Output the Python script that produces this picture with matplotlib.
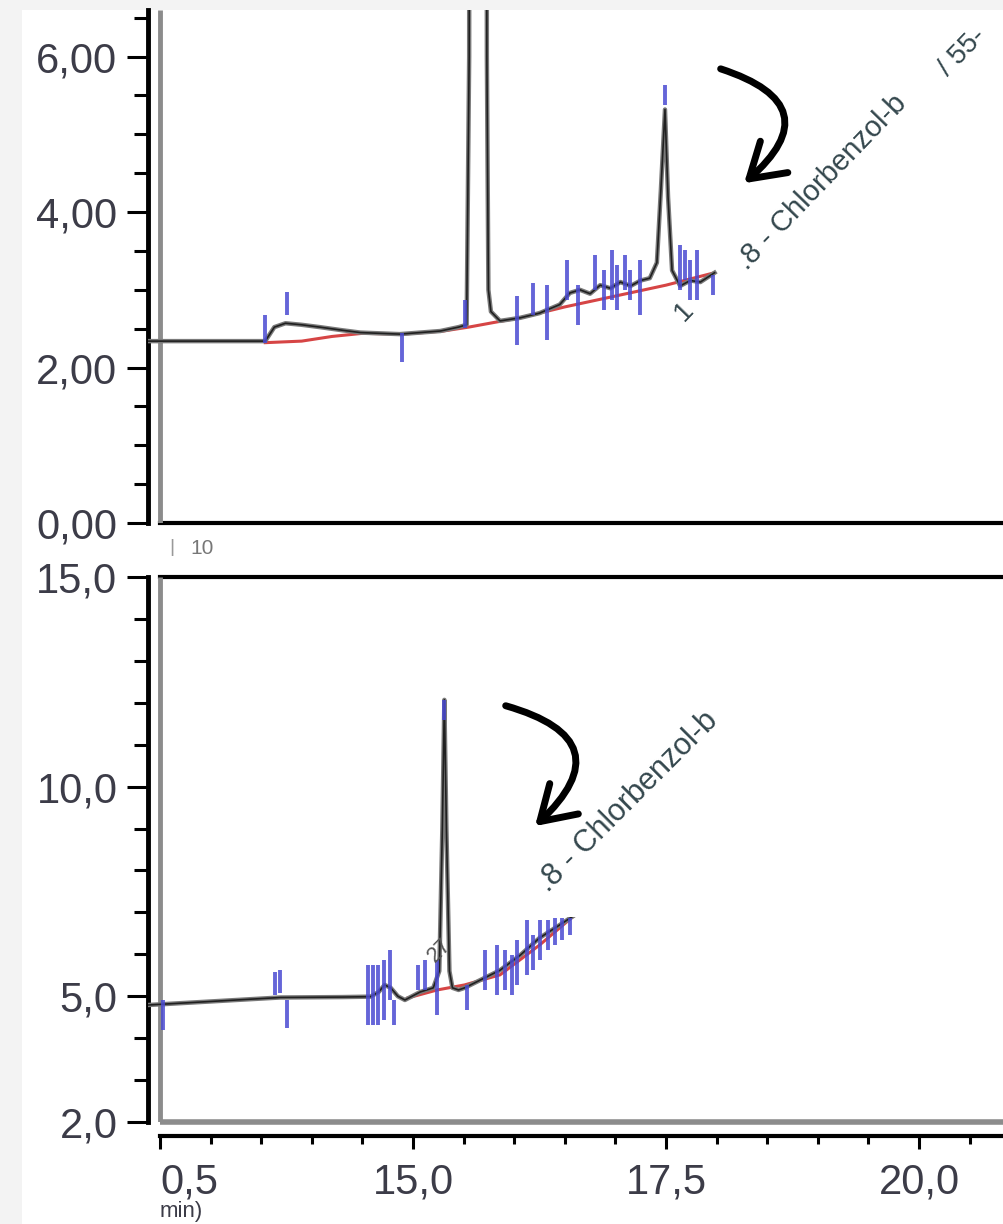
import matplotlib.pyplot as plt
import numpy as np
from matplotlib.patches import Rectangle, FancyArrowPatch
from matplotlib.ticker import MultipleLocator

plt.rcParams['font.family'] = ['Liberation Sans', 'DejaVu Sans']

# --- chromatogramme du haut (temps en min, signal) ---
haut_t = [12.38, 13.54, 13.58, 13.63, 13.74, 13.9, 14.08, 14.3, 14.48, 14.87, 15.27, 15.45, 15.53,
          15.555, 15.57, 15.64, 15.71, 15.73, 15.745, 15.77, 15.86, 16.06, 16.25, 16.45, 16.55, 16.65,
          16.75, 16.85, 16.95, 17.05, 17.15, 17.25, 17.34, 17.41, 17.45, 17.49, 17.52, 17.56, 17.64,
          17.74, 17.84, 17.98]
haut_v = [2.34, 2.34, 2.42, 2.52, 2.57, 2.55, 2.52, 2.48, 2.45, 2.43, 2.47, 2.52, 2.55,
          6.0, 40.0, 80.0, 40.0, 6.0, 3.0, 2.72, 2.60, 2.64, 2.70, 2.81, 2.96, 3.00,
          2.95, 3.06, 3.02, 3.10, 3.05, 3.12, 3.15, 3.35, 4.30, 5.32, 4.20, 3.25, 3.05,
          3.12, 3.10, 3.22]
base_haut_t = [13.54, 13.9, 14.2, 14.5, 14.9, 15.3, 15.55, 15.8, 16.06, 16.5, 17.0, 17.5, 17.98]
base_haut_v = [2.32, 2.34, 2.40, 2.44, 2.43, 2.47, 2.52, 2.58, 2.64, 2.78, 2.92, 3.06, 3.22]
# marqueurs d'intégration (bleus) : temps, bas, haut
marq_haut_t = [13.54, 13.75, 14.89, 15.51, 16.03, 16.19, 16.32, 16.52, 16.63, 16.80, 16.89,
               16.97, 17.02, 17.09, 17.14, 17.24, 17.49, 17.64, 17.69, 17.74, 17.81, 17.96]
marq_haut_bas = [2.32, 2.68, 2.07, 2.51, 2.29, 2.68, 2.36, 2.87, 2.55, 3.00, 2.74,
                 2.87, 2.74, 3.00, 2.87, 2.68, 5.38, 3.00, 3.13, 2.87, 2.87, 2.93]
marq_haut_haut = [2.68, 2.97, 2.45, 2.87, 2.92, 3.09, 3.06, 3.38, 3.06, 3.45, 3.26,
                  3.51, 3.32, 3.45, 3.26, 3.38, 5.64, 3.58, 3.51, 3.38, 3.51, 3.19]

# --- chromatogramme du bas ---
bas_t = [12.38, 13.69, 14.3, 14.58, 14.66, 14.72, 14.78, 14.85, 14.92, 15.07, 15.2, 15.26,
         15.29, 15.31, 15.33, 15.36, 15.39, 15.45, 15.51, 15.66, 15.86, 16.06, 16.25, 16.45, 16.6]
bas_v = [4.79, 4.97, 4.98, 4.99, 5.10, 5.27, 5.20, 5.00, 4.91, 5.10, 5.20, 5.60,
         9.0, 12.07, 9.0, 5.60, 5.20, 5.15, 5.20, 5.38, 5.62, 5.98, 6.39, 6.70, 6.94]
base_bas_t = [14.95, 15.24, 15.51, 15.86, 16.25, 16.6]
base_bas_v = [4.96, 5.15, 5.27, 5.51, 6.22, 6.94]
marq_bas_t = [12.53, 13.64, 13.69, 13.75, 14.56, 14.60, 14.65, 14.71, 14.77, 14.81, 15.05,
              15.12, 15.24, 15.31, 15.53, 15.71, 15.83, 15.91, 15.98, 16.03, 16.13, 16.19,
              16.25, 16.33, 16.40, 16.47, 16.55]
marq_bas_bas = [4.19, 5.03, 5.08, 4.24, 4.31, 4.31, 4.31, 4.43, 4.91, 4.31, 5.15,
                5.15, 4.55, 11.59, 4.67, 5.15, 5.03, 5.15, 5.03, 5.27, 5.51, 5.62,
                5.86, 6.10, 6.22, 6.34, 6.46]
marq_bas_haut = [4.91, 5.58, 5.62, 4.91, 5.74, 5.74, 5.74, 5.86, 6.10, 4.91, 5.74,
                 5.86, 5.86, 12.07, 5.27, 6.10, 6.22, 6.10, 5.98, 6.34, 6.82, 6.46,
                 6.82, 6.82, 6.87, 6.87, 6.87]

W, H = 1004, 1224
def px(x, y):
    # pixel -> fraction de figure
    return x / W, 1 - y / H

fig = plt.figure(figsize=(W / 100, H / 100), dpi=100)
fig.patch.set_facecolor('#f3f3f3')
fig.add_artist(Rectangle(px(22, H), (W - 22) / W, (H - 10) / H, transform=fig.transFigure,
                         facecolor='white', edgecolor='none', zorder=-5))

x0, x1 = 12.5 - 12 / 101.2, 12.5 + 844 / 101.2
couleur_txt = '#3c3c48'

ax1 = fig.add_axes([148 / W, 1 - 523 / H, (W - 148) / W, 513 / H])
ax2 = fig.add_axes([148 / W, 1 - 1122 / H, (W - 148) / W, 545 / H])
ax1.set_ylim(0, 6.6)
ax2.set_ylim(2, 15)

for ax in (ax1, ax2):
    ax.set_xlim(x0, x1)
    ax.spines['right'].set_visible(False)
    ax.spines['left'].set_linewidth(3.5)
    ax.vlines(12.5, ax.get_ylim()[0], ax.get_ylim()[1], color='#8c8c8c', lw=3.5, zorder=3)
    ax.tick_params(axis='y', which='major', length=15, width=2.2, pad=7,
                   labelsize=30, labelcolor=couleur_txt)
    ax.tick_params(axis='y', which='minor', length=10, width=2.2)

ax1.spines['top'].set_visible(False)
ax1.spines['bottom'].set_linewidth(3)
ax1.spines['bottom'].set_bounds(12.5, x1)
ax1.set_xticks([])
ax1.set_yticks([0, 2, 4, 6])
ax1.set_yticklabels(['0,00', '2,00', '4,00', '6,00'])
ax1.yaxis.set_minor_locator(MultipleLocator(0.5))

ax2.spines['top'].set_linewidth(3)
ax2.spines['top'].set_bounds(12.5, x1)
ax2.spines['bottom'].set_position(('outward', 10))
ax2.spines['bottom'].set_linewidth(3)
ax2.spines['bottom'].set_bounds(12.5, x1)
ax2.hlines(2, 12.5, x1, color='#8c8c8c', lw=4, zorder=3, clip_on=False)
ax2.set_yticks([2, 5, 10, 15])
ax2.set_yticklabels(['2,0', '5,0', '10,0', '15,0'])
ax2.yaxis.set_minor_locator(MultipleLocator(1))
ax2.set_xticks([12.5, 15, 17.5, 20])
ax2.set_xticklabels(['0,5', '15,0', '17,5', '20,0'])
ax2.xaxis.set_minor_locator(MultipleLocator(0.5))
ax2.tick_params(axis='x', which='major', length=9, width=2.2, pad=10,
                labelsize=30, labelcolor=couleur_txt)
ax2.tick_params(axis='x', which='minor', length=6, width=2.2)
ax2.get_xticklabels()[0].set_horizontalalignment('left')

# tracés
for ax, t, v, bt, bv, mt, mb, mh in [
        (ax1, haut_t, haut_v, base_haut_t, base_haut_v, marq_haut_t, marq_haut_bas, marq_haut_haut),
        (ax2, bas_t, bas_v, base_bas_t, base_bas_v, marq_bas_t, marq_bas_bas, marq_bas_haut)]:
    ax.plot(bt, bv, color='#d64545', lw=2.2, zorder=2)
    ax.plot(t, v, color='#7a7a7a', lw=3.2, zorder=3)
    ax.plot(t, v, color='#202020', lw=1.2, zorder=4)
    ax.vlines(mt, mb, mh, color='#4a4ad2', lw=2.8, alpha=0.85, zorder=5)

# cache blanc sur le panneau du bas
fig.add_artist(Rectangle(px(475, 917), 265 / W, 277 / H, transform=fig.transFigure,
                         facecolor='white', edgecolor='none', zorder=2))

# étiquettes des pics
couleur_lbl = '#34474d'
fig.text(*px(822, 182), '.8 - Chlorbenzol-b', rotation=46, rotation_mode='anchor',
         ha='center', va='center', fontsize=21, color=couleur_lbl, zorder=3)
fig.text(*px(962, 52), '/ 55-', rotation=46, rotation_mode='anchor',
         ha='center', va='center', fontsize=20, color=couleur_lbl, zorder=3)
fig.text(*px(684, 312), '1', rotation=46, rotation_mode='anchor',
         ha='center', va='center', fontsize=20, color=couleur_lbl, zorder=3)
fig.text(*px(628, 802), '.8 - Chlorbenzol-b', rotation=45, rotation_mode='anchor',
         ha='center', va='center', fontsize=22, color=couleur_lbl, zorder=3)
fig.text(*px(440, 950), '27', rotation=45, rotation_mode='anchor',
         ha='center', va='center', fontsize=16, color='#555555', zorder=3)

# flèches dessinées à la main
for a, b in [((718, 68), (742, 185)), ((503, 705), (533, 828))]:
    fig.add_artist(FancyArrowPatch(px(*a), px(*b), transform=fig.transFigure,
                                   connectionstyle='arc3,rad=-0.9',
                                   arrowstyle='->,head_length=0.8,head_width=0.5',
                                   mutation_scale=30, lw=5, color='black', zorder=4))

# divers
fig.text(*px(172, 548), '|', ha='center', va='center', fontsize=14, color='#999999')
fig.text(*px(190, 548), '10', ha='left', va='center', fontsize=15, color='#777777')
fig.text(*px(160, 1222), 'min)', ha='left', va='bottom', fontsize=16, color=couleur_txt)

fig.savefig('out.png', dpi=100)
